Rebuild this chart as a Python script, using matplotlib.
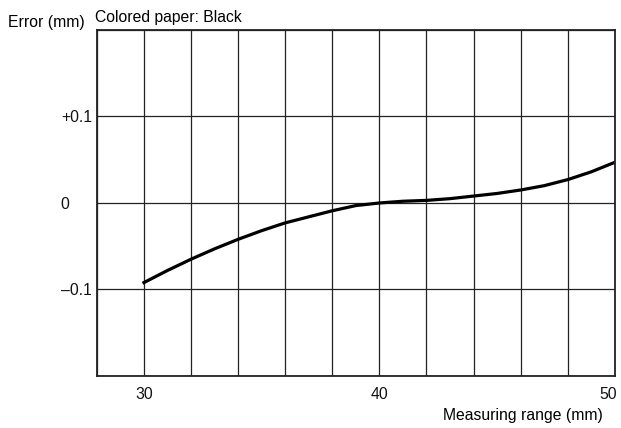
import matplotlib.pyplot as plt
import matplotlib.transforms as mtransforms
import numpy as np

plt.rcParams['font.family'] = ['Liberation Sans', 'DejaVu Sans']

# measuring range (mm) and error (mm)
distance = [30, 31, 32, 33, 34, 35, 36, 37, 38, 39, 40,
            41, 42, 43, 44, 45, 46, 47, 48, 49, 50]
error = [-0.092, -0.078, -0.065, -0.053, -0.042, -0.032, -0.023, -0.016,
         -0.009, -0.003, 0.0, 0.002, 0.003, 0.005, 0.008, 0.011, 0.015,
         0.020, 0.027, 0.036, 0.047]

x_ticks = [28, 30, 32, 34, 36, 38, 40, 42, 44, 46, 48, 50]
x_labels = ['', '30', '', '', '', '', '40', '', '', '', '', '50']
y_ticks = [-0.2, -0.1, 0.0, 0.1, 0.2]
y_labels = ['', '\u20130.1', '0', '+0.1', '']

fig = plt.figure(figsize=(6.21, 4.28), dpi=100)
ax = fig.add_axes([0.156, 0.1215, 0.834, 0.8085])

ax.plot(distance, error, color='black', lw=2.3, solid_joinstyle='round')

ax.set_xlim(28, 50)
ax.set_ylim(-0.2, 0.2)
ax.set_xticks(x_ticks)
ax.set_xticklabels(x_labels)
ax.set_yticks(y_ticks)
ax.set_yticklabels(y_labels)
ax.tick_params(length=0, labelsize=11.3, colors='#111111')
ax.tick_params(axis='x', pad=8)
ax.tick_params(axis='y', pad=26)
for lab in ax.get_yticklabels():
    lab.set_ha('left')

# the "50" label sits a little left of the last grid line
shift = mtransforms.ScaledTranslation(-5 / 72, 0, fig.dpi_scale_trans)
last = ax.get_xticklabels()[-1]
last.set_transform(last.get_transform() + shift)

ax.grid(True, color='#222222', lw=0.9)
ax.set_axisbelow(True)
for s in ax.spines.values():
    s.set_linewidth(1.3)
    s.set_color('#222222')

fig.text(0.153, 0.96, 'Colored paper: Black', fontsize=11.3, ha='left', va='center')
fig.text(0.013, 0.948, 'Error (mm)', fontsize=11.3, ha='left', va='center')
fig.text(0.97, 0.03, 'Measuring range (mm)', fontsize=11.3, ha='right', va='center')

fig.savefig('out.png', dpi=100)
